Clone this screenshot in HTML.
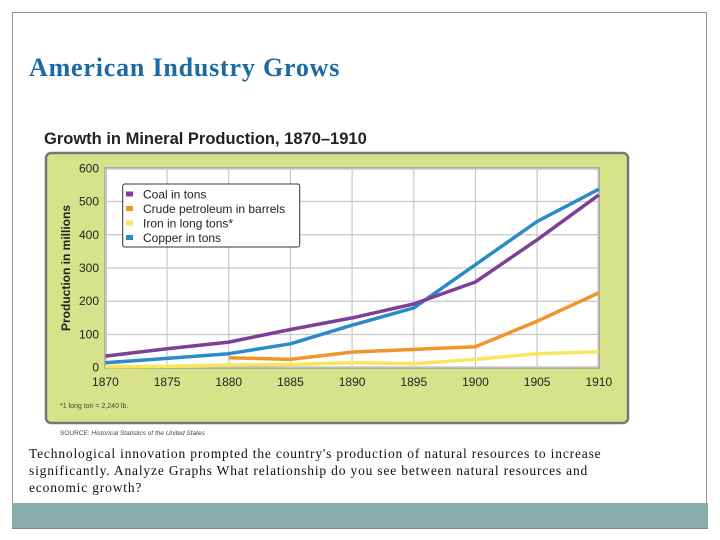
<!DOCTYPE html>
<html><head><meta charset="utf-8"><style>
body{margin:0;width:720px;height:540px;background:#fff;position:relative;overflow:hidden;font-family:"Liberation Sans",sans-serif}
.frame{position:absolute;left:12px;top:12px;width:695px;height:515px;border:1px solid #8a9a9a;border-bottom:none;box-sizing:border-box}
.bar{position:absolute;left:12px;top:503px;width:696px;height:25px;background:#8aacab;border-bottom:1px solid #6f8f8e}
h1{position:absolute;left:29px;top:53px;margin:0;font:bold 26px "Liberation Serif",serif;letter-spacing:0.8px;color:#1a6aa6}
.body{position:absolute;left:29px;top:445px;width:680px;white-space:nowrap;font:13.5px/17px "Liberation Serif",serif;letter-spacing:0.82px;color:#111}
</style></head><body>
<div class="frame"></div>
<h1>American Industry Grows</h1>
<svg id="chart" width="720" height="540" style="position:absolute;left:0;top:0">
<text x="44" y="144" font-size="16.5" font-weight="bold" fill="#222">Growth in Mineral Production, 1870–1910</text>
<rect x="46" y="153" width="582" height="270" rx="5" fill="#d6e38a" stroke="#777" stroke-width="2.5"/>
<rect x="105.4" y="168.3" width="493.4" height="199.4" fill="#fff" stroke="#777" stroke-width="2"/>
<g id="grid"></g><g id="lines"></g><g id="ticks"></g>
<text transform="translate(70,268) rotate(-90)" text-anchor="middle" font-size="12" font-weight="bold" fill="#222">Production in millions</text>
<g>
<rect x="122.7" y="184" width="177" height="63" rx="2" fill="#fff" stroke="#333" stroke-width="1"/>
<g id="legend"></g></g>
<text x="60" y="408" font-size="7" fill="#444">*1 long ton = 2,240 lb.</text>
<text x="60" y="435" font-size="6.5" fill="#444">SOURCE: <tspan font-style="italic">Historical Statistics of the United States</tspan></text>
</svg>
<div class="body">Technological innovation prompted the country's production of natural resources to increase<br>significantly. Analyze Graphs What relationship do you see between natural resources and<br>economic growth?</div>
<div class="bar"></div>
<script>
const years=[1870,1875,1880,1885,1890,1895,1900,1905,1910];
const yTicks=[0,100,200,300,400,500,600];
const coal=[35,57,77,115,150,192,258,385,520];
const petroleum=[null,null,30,25,47,55,63,140,225];
const iron=[3,4,8,10,15,12,25,42,48];
const copper=[15,28,42,72,128,180,310,440,537];
const seriesNames=["Coal in tons","Crude petroleum in barrels","Iron in long tons*","Copper in tons"];
const seriesColors=["#7d3f98","#f0952a","#f6e85a","#2b8ac8"];
const seriesData=[coal,petroleum,iron,copper];
const drawOrder=[2,1,3,0];
const NS="http://www.w3.org/2000/svg";
const L=105.4,R=598.8,T=168.3,B=367.7;
const xs=y=>L+(y-1870)/40*(R-L);
const ys=v=>B-v/600*(B-T);
function mk(tag,attrs,parent){const e=document.createElementNS(NS,tag);for(const k in attrs)e.setAttribute(k,attrs[k]);document.getElementById(parent).appendChild(e);return e;}
years.forEach(y=>{
 const g=mk('line',{x1:xs(y),x2:xs(y),y1:T,y2:B,stroke:'#c8c8c8','stroke-width':1.2},'grid');
 
 
 const t=mk('text',{x:xs(y),y:386,'text-anchor':'middle','font-size':12,fill:'#222'},'ticks');
 t.textContent=y;
 
 
});
yTicks.forEach(v=>{
 const g=mk('line',{x1:L,x2:R,y1:ys(v),y2:ys(v),stroke:'#c8c8c8','stroke-width':1.2},'grid');
 
 
 const t=mk('text',{x:99,y:ys(v)+4,'text-anchor':'end','font-size':12,fill:'#222'},'ticks');
 t.textContent=v;
 
 
});
drawOrder.forEach(i=>{
 const pts=[];seriesData[i].forEach((v,j)=>{if(v!==null)pts.push(xs(years[j]).toFixed(1)+','+ys(v).toFixed(1));});
 const p=mk('polyline',{points:pts.join(' '),fill:'none',stroke:seriesColors[i],'stroke-width':3.5,'stroke-linejoin':'round'},'lines');
 
 
});
seriesNames.forEach((n,i)=>{
 const y=194+i*14.5;
 const r=mk('rect',{x:126,y:y-2.5,width:7,height:5,fill:seriesColors[i]},'legend');
 
 
 const t=mk('text',{x:143,y:y+4.5,'font-size':12,fill:'#222'},'legend');
 t.textContent=n;
 
 
});
</script>
</body></html>
